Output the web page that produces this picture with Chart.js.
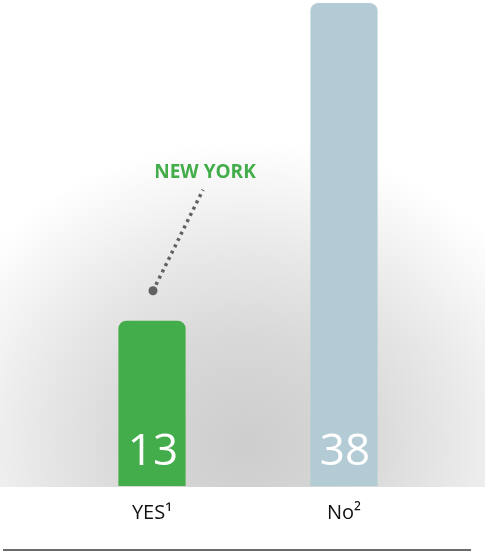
<!DOCTYPE html>
<html>
<head>
<meta charset="utf-8">
<script src="https://cdn.jsdelivr.net/npm/chart.js@4/dist/chart.umd.min.js"></script>
<style>
  html, body { margin: 0; padding: 0; background: #fff; }
  canvas { display: block; }
</style>
</head>
<body>
<canvas id="chart" width="485" height="552"></canvas>
<script>
"use strict";
const categories = ["YES\u00b9", "No\u00b2"];
const values = [13, 38];
const barColors = ["#43ad4b", "#b3cbd4"];
const calloutText = "NEW YORK";

const FONT = "'Open Sans', 'Noto Sans', sans-serif";

// soft grey glow behind the bars, cut off at the baseline
const backdrop = {
  id: "backdrop",
  beforeDraw(chart) {
    const { ctx, chartArea, width } = chart;
    const cx = 245, cy = 445;
    ctx.save();
    ctx.beginPath();
    ctx.rect(0, 0, width, chartArea.bottom + 1);
    ctx.clip();
    ctx.translate(cx, cy);
    ctx.scale(1.1, 1);
    const g = ctx.createRadialGradient(0, 0, 0, 0, 0, 305);
    g.addColorStop(0, "#cdcdcd");
    g.addColorStop(0.35, "#d8d8d8");
    g.addColorStop(0.65, "#e9e9e9");
    g.addColorStop(0.85, "#f6f6f6");
    g.addColorStop(1, "#ffffff");
    ctx.fillStyle = g;
    ctx.fillRect(-cx, -cy, width, chartArea.bottom + 1);
    ctx.restore();
  },
};

// value inside each bar, the New York callout and the bottom rule
const overlay = {
  id: "overlay",
  afterDatasetsDraw(chart) {
    const { ctx, chartArea } = chart;
    const bars = chart.getDatasetMeta(0).data;
    ctx.save();
    ctx.fillStyle = "#ffffff";
    ctx.font = "44px " + FONT;
    ctx.textAlign = "center";
    ctx.textBaseline = "alphabetic";
    bars.forEach((bar, i) => {
      ctx.fillText(String(values[i]), bar.x + 1, chartArea.bottom - 21);
    });

    const yes = bars[0];
    const ax = yes.x + 1, ay = yes.y - 30;
    ctx.strokeStyle = "#616161";
    ctx.lineWidth = 3.5;
    ctx.setLineDash([3, 4]);
    ctx.beginPath();
    ctx.moveTo(ax + 3, ay - 6);
    ctx.lineTo(ax + 50, ay - 101);
    ctx.stroke();
    ctx.setLineDash([]);
    ctx.fillStyle = "#616161";
    ctx.beginPath();
    ctx.arc(ax, ay, 4.5, 0, Math.PI * 2);
    ctx.fill();

    ctx.fillStyle = "#43ad4b";
    ctx.font = "bold 19px " + FONT;
    ctx.textBaseline = "middle";
    ctx.fillText(calloutText, ax + 52, ay - 118);

    ctx.strokeStyle = "#6b6b6b";
    ctx.lineWidth = 2;
    ctx.beginPath();
    ctx.moveTo(3, 550);
    ctx.lineTo(471, 550);
    ctx.stroke();
    ctx.restore();
  },
};

new Chart(document.getElementById("chart"), {
  type: "bar",
  data: {
    labels: categories,
    datasets: [
      {
        data: values,
        backgroundColor: barColors,
        borderRadius: { topLeft: 8, topRight: 8 },
        borderSkipped: "bottom",
        barPercentage: 0.35,
        categoryPercentage: 1,
      },
    ],
  },
  options: {
    responsive: false,
    animation: false,
    layout: { padding: { left: 56, right: 45, top: 3, bottom: 0 } },
    plugins: { legend: { display: false }, tooltip: { enabled: false } },
    scales: {
      x: {
        grid: { display: false, drawTicks: false },
        border: { display: false },
        ticks: { color: "#111111", font: { family: FONT, size: 20 }, padding: 15 },
        afterFit(scale) { scale.height = 66; },
      },
      y: {
        display: false,
        min: 0,
        max: 38,
      },
    },
  },
  plugins: [backdrop, overlay],
});
</script>
</body>
</html>
